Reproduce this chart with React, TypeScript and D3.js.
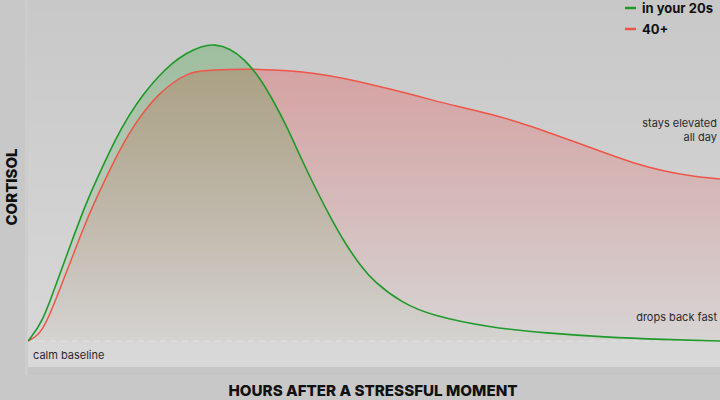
import React from 'react';
import * as d3 from 'd3';

// hours after the stressor (no ticks shown, arbitrary 0-12 span)
const youngHours = [0, 0.25, 0.5, 0.75, 1, 1.25, 1.5, 1.75, 2, 2.25, 2.5, 2.75, 3, 3.25, 3.5, 3.75, 4, 4.25, 4.5, 4.75, 5, 5.25, 5.5, 5.75, 6, 6.5, 7, 8, 9, 10, 11, 12];
const olderHours = [0, 0.25, 0.5, 0.75, 1, 1.25, 1.5, 1.75, 2, 2.25, 2.5, 2.75, 3, 3.5, 4, 4.5, 5, 5.5, 6, 6.5, 7, 7.5, 8, 8.5, 9, 9.5, 10, 10.5, 11, 11.5, 12];

// cortisol level, 0 = calm baseline
const young = [0, 6, 19.7, 32.7, 45.7, 56.3, 66.7, 75.3, 82.3, 88, 92.7, 96, 98.3, 99, 97.5, 94, 88.3, 80.3, 71, 60.3, 50.3, 41, 32.5, 25.5, 19.7, 12.5, 8.5, 4.5, 2.6, 1.3, 0.5, 0];
const older = [0, 2.5, 14.7, 27, 39.7, 50.3, 60.3, 69.3, 76.3, 82, 86, 89, 90.2, 90.6, 90.6, 90.2, 89.2, 87.5, 85.3, 83, 80.3, 78, 75.7, 73, 69.7, 66.3, 62.7, 59.3, 56.7, 55, 54];

const seriesNames = ['in your 20s', '40+'];
const seriesColors = ['#1f9a2a', '#ee5548'];
const annotations = { baseline: 'calm baseline', fast: 'drops back fast', elevated: ['stays elevated', 'all day'] };

const W = 720;
const H = 400;
const plot = { left: 28, right: 720, top: 0, bottom: 367 };

export default function App() {
  const x = d3.scaleLinear().domain([0, 12]).range([plot.left, plot.right]);
  const y = d3.scaleLinear().domain([0, 100]).range([341, 41]);

  const youngPts = youngHours.map((h, i) => [h, young[i]] as [number, number]);
  const olderPts = olderHours.map((h, i) => [h, older[i]] as [number, number]);

  const line = d3.line<[number, number]>()
    .x(d => x(d[0]))
    .y(d => y(d[1]))
    .curve(d3.curveBasis);

  const area = d3.area<[number, number]>()
    .x(d => x(d[0]))
    .y0(y(0))
    .y1(d => y(d[1]))
    .curve(d3.curveBasis);

  const font = 'Inter, "Noto Sans", sans-serif';

  return (
    <svg width={W} height={H} style={{ position: 'fixed', left: 0, top: 0 }} fontFamily={font}>
      <defs>
        <linearGradient id="bgGrad" x1="0" y1="0" x2="0" y2="1">
          <stop offset="0%" stopColor="#fff" stopOpacity={0} />
          <stop offset="100%" stopColor="#fff" stopOpacity={0.3} />
        </linearGradient>
        <linearGradient id="redGrad" gradientUnits="userSpaceOnUse" x1="0" y1={y(100)} x2="0" y2={y(0)}>
          <stop offset="0%" stopColor="#ea4f4f" stopOpacity={0.36} />
          <stop offset="100%" stopColor="#ea4f4f" stopOpacity={0.02} />
        </linearGradient>
        <linearGradient id="greenGrad" gradientUnits="userSpaceOnUse" x1="0" y1={y(100)} x2="0" y2={y(0)}>
          <stop offset="0%" stopColor="#38a038" stopOpacity={0.3} />
          <stop offset="100%" stopColor="#38a038" stopOpacity={0.02} />
        </linearGradient>
        <clipPath id="plotClip">
          <rect x={plot.left} y={plot.top} width={plot.right - plot.left} height={plot.bottom - plot.top} />
        </clipPath>
      </defs>

      <rect width={W} height={H} fill="#c8c8c8" />
      {/* plot frame */}
      <rect x={plot.left - 3} y={0} width={plot.right - plot.left + 3} height={plot.bottom + 8} fill="#c5c5c5" />
      <rect x={plot.left - 3} y={0} width={3} height={plot.bottom + 8} fill="#cdcdcd" />
      <rect x={plot.left} y={plot.top} width={plot.right - plot.left} height={plot.bottom - plot.top} fill="#c8c8c8" />
      <rect x={plot.left} y={plot.top} width={plot.right - plot.left} height={plot.bottom - plot.top} fill="url(#bgGrad)" />

      <g clipPath="url(#plotClip)">
        <line x1={plot.left} x2={plot.right} y1={y(0)} y2={y(0)}
          stroke="#e4e4e4" strokeWidth={1} strokeDasharray="6 5" />
        <path d={area(olderPts) ?? ''} fill="url(#redGrad)" />
        <path d={area(youngPts) ?? ''} fill="url(#greenGrad)" />
        <path d={line(olderPts) ?? ''} fill="none" stroke={seriesColors[1]} strokeWidth={1.5} />
        <path d={line(youngPts) ?? ''} fill="none" stroke={seriesColors[0]} strokeWidth={1.6} />
      </g>

      {/* annotations */}
      <text x={33} y={359} fontSize={11} fill="#2a2a2a">{annotations.baseline}</text>
      <text x={717} y={321} fontSize={11} fill="#2a2a2a" textAnchor="end">{annotations.fast}</text>
      <text x={717} y={127} fontSize={11} fill="#2a2a2a" textAnchor="end">{annotations.elevated[0]}</text>
      <text x={717} y={141} fontSize={11} fill="#2a2a2a" textAnchor="end">{annotations.elevated[1]}</text>

      {/* legend */}
      {seriesNames.map((name, i) => (
        <g key={name} transform={`translate(625,${8 + i * 21})`}>
          <line x1={0} x2={11} y1={0} y2={0} stroke={seriesColors[i]} strokeWidth={2.5} />
          <text x={17} y={5} fontSize={13} fontWeight={700} fill="#111">{name}</text>
        </g>
      ))}

      {/* axis titles */}
      <text x={373} y={396} fontSize={15.2} fontWeight={800} fill="#111" textAnchor="middle">
        HOURS AFTER A STRESSFUL MOMENT
      </text>
      <text transform="translate(17,187) rotate(-90)" fontSize={15} fontWeight={800} fill="#111" textAnchor="middle">
        CORTISOL
      </text>
    </svg>
  );
}
